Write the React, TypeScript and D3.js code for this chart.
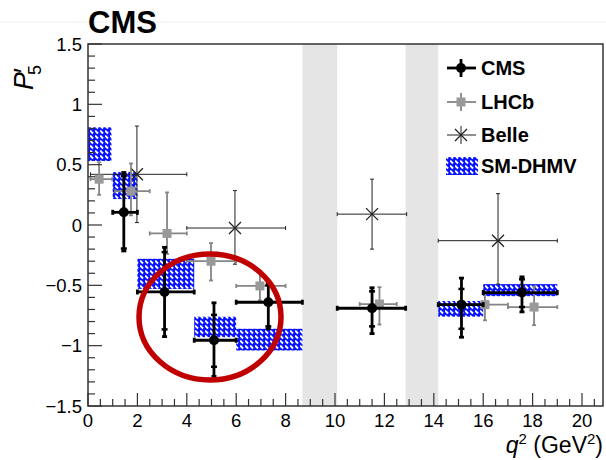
import React from "react";
import * as d3 from "d3";

// ---------- data ----------
const yTicks = [-1.5, -1, -0.5, 0, 0.5, 1, 1.5];
const xTicks = [0, 2, 4, 6, 8, 10, 12, 14, 16, 18, 20];

const vetoLo = [8.68, 12.86];
const vetoHi = [10.09, 14.18];

// CMS
const cmsLo = [1, 2, 4.3, 6, 10.09, 14.18, 16];
const cmsHi = [2, 4.3, 6, 8.68, 12.86, 16, 19];
const cmsX = [1.45, 3.1, 5.1, 7.3, 11.5, 15.12, 17.57];
const cmsY = [0.105, -0.555, -0.955, -0.64, -0.69, -0.66, -0.56];
const cmsErrUp = [0.33, 0.37, 0.31, 0.16, 0.17, 0.22, 0.13];
const cmsErrDn = [0.32, 0.37, 0.30, 0.22, 0.21, 0.27, 0.16];
const cmsStatUp = [0.3, 0.33, 0.21, 0.14, 0.14, 0.13, 0.11];
const cmsStatDn = [0.3, 0.31, 0.22, 0.2, 0.15, 0.2, 0.12];

// LHCb
const lhcbLo = [0.1, 1.1, 2.5, 4, 6, 11, 15, 17];
const lhcbHi = [0.98, 2.5, 4, 6, 8, 12.5, 17, 19];
const lhcbX = [0.45, 1.74, 3.2, 4.98, 6.96, 11.8, 16.07, 18.06];
const lhcbY = [0.38, 0.28, -0.07, -0.3, -0.505, -0.655, -0.66, -0.68];
const lhcbErrUp = [0.14, 0.23, 0.34, 0.15, 0.11, 0.14, 0.11, 0.17];
const lhcbErrDn = [0.13, 0.2, 0.17, 0.16, 0.12, 0.17, 0.13, 0.15];

// Belle
const belleLo = [0.1, 4, 10.09, 14.18];
const belleHi = [4, 8, 12.9, 19];
const belleX = [1.98, 5.95, 11.5, 16.6];
const belleY = [0.42, -0.025, 0.09, -0.13];
const belleErrUp = [0.4, 0.31, 0.29, 0.39];
const belleErrDn = [0.4, 0.3, 0.29, 0.36];

// SM-DHMV
const smLo = [0, 1, 2, 4.3, 6, 14.18, 16];
const smHi = [0.95, 2, 4.3, 6, 8.68, 16, 19];
const smTop = [0.81, 0.44, -0.28, -0.76, -0.86, -0.63, -0.49];
const smBot = [0.53, 0.215, -0.53, -0.93, -1.04, -0.76, -0.59];

const legendLabels = ["CMS", "LHCb", "Belle", "SM-DHMV"];

// ---------- layout ----------
const W = 606, H = 460;
const L = 88, R = 603, T = 44, B = 406;
const xMax = 20.85;

const x = d3.scaleLinear().domain([0, xMax]).range([L, R]);
const y = d3.scaleLinear().domain([-1.5, 1.5]).range([B, T]);

const FONT = "'Liberation Sans', Arial, Helvetica, sans-serif";

function fmt(v: number) {
  const s = String(Math.abs(v));
  return v < 0 ? "\u2212" + s : s;
}

function ErrBar({ cx, cy, x0, x1, y0, y1, color, w, cap, statUp, statDn }: any) {
  const px = x(cx), py = y(cy);
  const els: any[] = [];
  els.push(<line key="h" x1={x(x0)} x2={x(x1)} y1={py} y2={py} stroke={color} strokeWidth={w} />);
  els.push(<line key="v" x1={px} x2={px} y1={y(y0)} y2={y(y1)} stroke={color} strokeWidth={w} />);
  if (cap > 0) {
    els.push(<line key="c1" x1={x(x0)} x2={x(x0)} y1={py - cap} y2={py + cap} stroke={color} strokeWidth={w} />);
    els.push(<line key="c2" x1={x(x1)} x2={x(x1)} y1={py - cap} y2={py + cap} stroke={color} strokeWidth={w} />);
    els.push(<line key="c3" x1={px - cap} x2={px + cap} y1={y(y0)} y2={y(y0)} stroke={color} strokeWidth={w} />);
    els.push(<line key="c4" x1={px - cap} x2={px + cap} y1={y(y1)} y2={y(y1)} stroke={color} strokeWidth={w} />);
  }
  if (statUp !== undefined) {
    const ys = [cy + statUp, cy - statDn];
    ys.forEach((v, i) =>
      els.push(
        <line key={"s" + i} x1={px - 3} x2={px + 3} y1={y(v)} y2={y(v)} stroke={color} strokeWidth={2.5} />
      )
    );
  }
  return <g>{els}</g>;
}

export default function App() {
  const yMinor = d3.range(-15, 16).map((d) => d / 10);
  const xMinor = d3.range(0, 42).map((d) => d / 2).filter((d) => d <= xMax);
  const legendY = [68, 102, 135, 166];

  return (
    <svg
      width={W}
      height={H}
      viewBox={`0 0 ${W} ${H}`}
      style={{ position: "absolute", left: 0, top: 0, background: "#fff" }}
      fontFamily={FONT}
    >
      <defs>
        <pattern id="hatch" width="5" height="5" patternUnits="userSpaceOnUse">
          <rect width="5" height="5" fill="#0a14ff" />
          <path d="M0,0.5 L3,3.5" stroke="#fff" strokeWidth="1.9" />
        </pattern>
      </defs>
      <rect width={W} height={H} fill="#fff" />
      <line x1={0} x2={W} y1={22} y2={22} stroke="#f0f0f0" strokeWidth={1} />

      {/* veto bands */}
      {vetoLo.map((lo, i) => (
        <rect key={i} x={x(lo)} y={T} width={x(vetoHi[i]) - x(lo)} height={B - T} fill="#e5e5e5" />
      ))}

      {/* SM boxes */}
      {smLo.map((lo, i) => (
        <rect
          key={i}
          x={x(lo)}
          y={y(smTop[i])}
          width={x(smHi[i]) - x(lo)}
          height={y(smBot[i]) - y(smTop[i])}
          fill="url(#hatch)"
        />
      ))}

      {/* Belle */}
      {belleX.map((cx, i) => {
        const px = x(cx), py = y(belleY[i]);
        const s = 6;
        return (
          <g key={i}>
            <ErrBar cx={cx} cy={belleY[i]} x0={belleLo[i]} x1={belleHi[i]} y0={belleY[i] - belleErrDn[i]} y1={belleY[i] + belleErrUp[i]} color="#222" w={1} cap={2} />
            <path d={`M${px - s},${py - s}L${px + s},${py + s}M${px - s},${py + s}L${px + s},${py - s}`} stroke="#222" strokeWidth={1.3} />
          </g>
        );
      })}

      {/* LHCb */}
      {lhcbX.map((cx, i) => {
        const px = x(cx), py = y(lhcbY[i]);
        return (
          <g key={i}>
            <ErrBar cx={cx} cy={lhcbY[i]} x0={lhcbLo[i]} x1={lhcbHi[i]} y0={lhcbY[i] - lhcbErrDn[i]} y1={lhcbY[i] + lhcbErrUp[i]} color="#858585" w={1.8} cap={2} />
            <rect x={px - 4.5} y={py - 4.5} width={9} height={9} fill="#999" />
          </g>
        );
      })}

      {/* CMS */}
      {cmsX.map((cx, i) => {
        const px = x(cx), py = y(cmsY[i]);
        return (
          <g key={i}>
            <ErrBar cx={cx} cy={cmsY[i]} x0={cmsLo[i]} x1={cmsHi[i]} y0={cmsY[i] - cmsErrDn[i]} y1={cmsY[i] + cmsErrUp[i]} color="#000" w={2.8} cap={2.5} statUp={cmsStatUp[i]} statDn={cmsStatDn[i]} />
            <circle cx={px} cy={py} r={5} fill="#000" />
          </g>
        );
      })}

      {/* frame */}
      <rect x={L} y={T} width={R - L} height={B - T} fill="none" stroke="#333" strokeWidth={1.5} />

      {/* y ticks */}
      {yMinor.map((v, i) => {
        const major = Math.abs(v * 2 - Math.round(v * 2)) < 1e-6;
        return <line key={i} x1={L} x2={L + (major ? 14 : 7)} y1={y(v)} y2={y(v)} stroke="#333" strokeWidth={1.2} />;
      })}
      {yTicks.map((v) => (
        <text key={v} x={82} y={y(v) + 6.5} textAnchor="end" fontSize={18.5}>
          {fmt(v)}
        </text>
      ))}

      {/* x ticks */}
      {xMinor.map((v, i) => {
        const major = Math.abs(v / 2 - Math.round(v / 2)) < 1e-6;
        return <line key={i} x1={x(v)} x2={x(v)} y1={B} y2={B - (major ? 13 : 7)} stroke="#333" strokeWidth={1.2} />;
      })}
      {xTicks.map((v) => (
        <text key={v} x={x(v)} y={427} textAnchor="middle" fontSize={18.5}>
          {fmt(v)}
        </text>
      ))}

      {/* axis titles */}
      <text x={603} y={453} textAnchor="end" fontSize={23}>
        <tspan fontStyle="italic">q</tspan>
        <tspan fontSize={15} dy={-9}>2</tspan>
        <tspan dy={9}> (GeV</tspan>
        <tspan fontSize={15} dy={-9}>2</tspan>
        <tspan dy={9}>)</tspan>
      </text>
      <text transform="translate(33,90) rotate(-90)" textAnchor="start" fontSize={27}>
        <tspan fontStyle="italic">P</tspan>
        <tspan dx={-1}>{"\u2032"}</tspan>
        <tspan fontSize={18} dx={-7} dy={8}>5</tspan>
      </text>

      <text x={88} y={33} fontSize={31} fontWeight="bold">CMS</text>

      {/* legend */}
      <g>
        {/* CMS */}
        <line x1={447} x2={476} y1={legendY[0]} y2={legendY[0]} stroke="#000" strokeWidth={2.8} />
        <line x1={461} x2={461} y1={legendY[0] - 9} y2={legendY[0] + 9} stroke="#000" strokeWidth={2.8} />
        <circle cx={461} cy={legendY[0]} r={5} fill="#000" />
        {/* LHCb */}
        <line x1={447} x2={476} y1={legendY[1]} y2={legendY[1]} stroke="#858585" strokeWidth={1.8} />
        <line x1={461} x2={461} y1={legendY[1] - 9} y2={legendY[1] + 9} stroke="#858585" strokeWidth={1.8} />
        <rect x={456.5} y={legendY[1] - 4.5} width={9} height={9} fill="#999" />
        {/* Belle */}
        <line x1={447} x2={476} y1={legendY[2]} y2={legendY[2]} stroke="#222" strokeWidth={1} />
        <line x1={461} x2={461} y1={legendY[2] - 9} y2={legendY[2] + 9} stroke="#222" strokeWidth={1} />
        <path d={`M455,${legendY[2] - 6}L467,${legendY[2] + 6}M455,${legendY[2] + 6}L467,${legendY[2] - 6}`} stroke="#222" strokeWidth={1.3} />
        {/* SM */}
        <rect x={446} y={legendY[3] - 9} width={32} height={18} fill="url(#hatch)" />
        {legendLabels.map((t, i) => (
          <text key={t} x={481} y={legendY[i] + 7} fontSize={20} fontWeight="bold">
            {t}
          </text>
        ))}
      </g>

      {/* red ellipse */}
      <ellipse cx={210} cy={317} rx={71} ry={63} fill="none" stroke="#c00000" strokeWidth={5.5} />
    </svg>
  );
}
